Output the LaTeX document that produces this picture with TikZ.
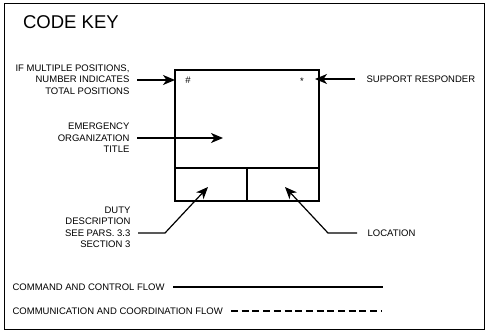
\documentclass[tikz,border=0pt]{standalone}
\usepackage{fontspec}
\setmainfont{Liberation Sans}
\usetikzlibrary{arrows.meta}
\begin{document}
\begin{tikzpicture}[x=1pt,y=-1pt,line width=1.2pt,
  lbl/.style={font=\fontsize{9.5}{11.5}\selectfont,inner sep=0pt,align=right},
  ptr/.style={-{Stealth[length=12pt,width=10pt,inset=3.5pt]},line width=1.2pt},
  cell/.style={draw,line width=1.4pt,inner sep=0pt,outer sep=0pt,anchor=north west},
  frame/.style={draw,line width=1pt}]
\useasboundingbox (0,0) rectangle (487,331);
\draw[frame] (4,4) rectangle (484,329);
\node[anchor=north west,inner sep=0pt,font=\fontsize{18.5}{20}\selectfont] (title) at (22.5,14.5) {CODE KEY};
% main box
\node[cell,minimum width=144pt,minimum height=98pt] (box) at (175,70) {};
\node[cell,minimum width=72pt,minimum height=33pt] (duty) at (175,168) {};
\node[cell,minimum width=72pt,minimum height=33pt] (loc) at (247,168) {};
\node[lbl] (hash) at (188,80) {\#};
\node[lbl] (star) at (302,81) {*};
% labels
\node[lbl,anchor=east] (ifm) at (130,79.5) {IF MULTIPLE POSITIONS,\\NUMBER INDICATES\\TOTAL POSITIONS};
\node[lbl,anchor=east] (emo) at (130,138) {EMERGENCY\\ORGANIZATION\\TITLE};
\node[lbl,anchor=west] (sup) at (366,79) {SUPPORT RESPONDER};
\node[lbl,anchor=east] (dd) at (131,227.5) {DUTY\\DESCRIPTION\\SEE PARS. 3.3\\SECTION 3};
\node[lbl,anchor=west] (loct) at (367,233) {LOCATION};
\node[lbl,anchor=west] (cmd) at (12,287) {COMMAND AND CONTROL FLOW};
\node[lbl,anchor=west] (com) at (12,311) {COMMUNICATION AND COORDINATION FLOW};
% pointer coordinates
\coordinate (t1) at (175,80);
\coordinate (t2) at (223,138);
\coordinate (t3) at (315,79);
\coordinate (t4) at (208,187);
\coordinate (t5) at (285,187);
\coordinate (s4) at (138,233);
\coordinate (s5) at (357,233);
\draw[ptr] (137,80) -- (t1);
\draw[ptr] (137,138) -- (t2);
\draw[ptr] (355,79) -- (t3);
\draw[ptr] (s4) -- (165,233) -- (t4);
\draw[ptr] (s5) -- (328,233) -- (t5);
% legend lines
\coordinate (c1) at (173,287);
\coordinate (c2) at (383,287);
\coordinate (d1) at (231,311);
\coordinate (d2) at (382,311);
\draw[line width=1.2pt] (c1) -- (c2);
\draw[line width=1.2pt,dash pattern=on 7pt off 3.7pt] (d1) -- (d2);
\end{tikzpicture}
\end{document}
